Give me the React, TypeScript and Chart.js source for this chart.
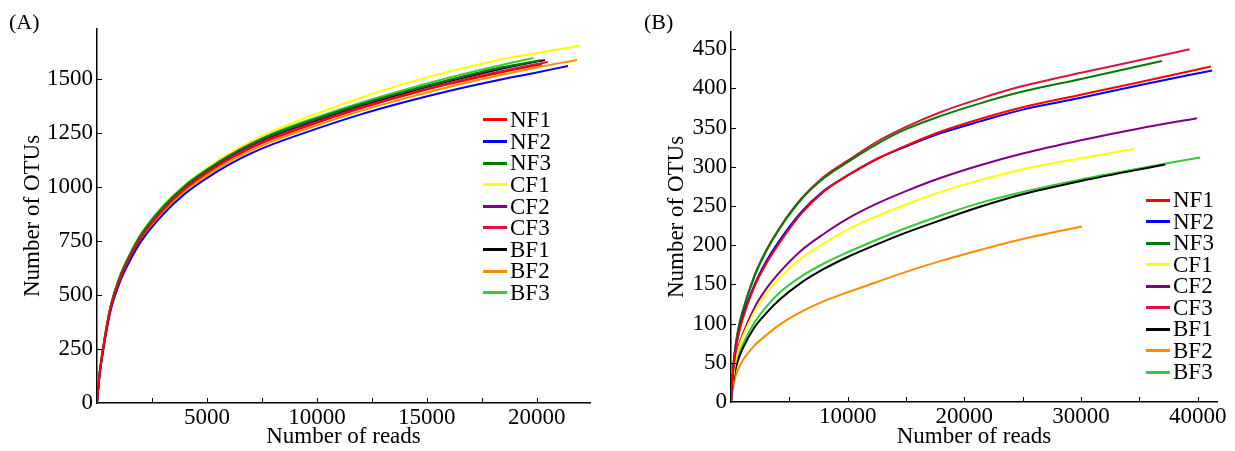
import React, { useEffect, useRef } from "react";
import { Chart, registerables } from "chart.js";

Chart.register(...registerables);

const SERIES_NAMES = ["NF1", "NF2", "NF3", "CF1", "CF2", "CF3", "BF1", "BF2", "BF3"];
const SERIES_COLORS = ["#ff0000", "#0000ff", "#007d00", "#ffff00", "#800080", "#dc143c", "#000000", "#ff8c00", "#32cd32"];

// ---------- Panel A ----------
const A_READS = [0, 100, 300, 600, 1000, 1500, 2000, 3000, 4000, 5000, 6000, 7000, 8000, 10000, 12000, 14000, 16000, 18000, 20000];
const A_NF1 = [0, 117, 262, 430, 562, 675, 766, 893, 990, 1064, 1127, 1180, 1224, 1297, 1364, 1423, 1476, 1522, 1563];
const A_NF2 = [0, 114, 255, 420, 549, 659, 747, 872, 968, 1041, 1103, 1155, 1198, 1270, 1336, 1393, 1444, 1489, 1530];
const A_NF3 = [0, 120, 267, 438, 572, 687, 779, 908, 1006, 1080, 1145, 1199, 1244, 1317, 1383, 1441, 1494, 1545, 1583];
const A_CF1 = [0, 118, 265, 436, 571, 686, 779, 910, 1010, 1087, 1154, 1211, 1259, 1340, 1413, 1478, 1533, 1582, 1620];
const A_CF2 = [0, 119, 266, 437, 572, 686, 777, 906, 1003, 1077, 1141, 1195, 1239, 1312, 1380, 1440, 1494, 1543];
const A_CF3 = [0, 118, 263, 432, 565, 678, 769, 897, 994, 1068, 1131, 1184, 1228, 1301, 1368, 1427, 1480, 1527, 1569];
const A_BF1 = [0, 119, 266, 437, 571, 685, 776, 904, 1001, 1075, 1139, 1192, 1236, 1308, 1375, 1435, 1489, 1538, 1580];
const A_BF2 = [0, 115, 258, 425, 556, 668, 758, 884, 980, 1053, 1116, 1168, 1212, 1285, 1352, 1410, 1463, 1510, 1553];
const A_BF3 = [0, 120, 268, 440, 575, 690, 782, 912, 1010, 1085, 1150, 1205, 1250, 1323, 1390, 1450, 1505, 1555];
// final sampling depth (reads) and OTUs of each curve, same order as SERIES_NAMES
const A_END_READS = [20240, 21420, 20150, 21920, 18500, 20500, 20380, 21830, 19830];
const A_END_OTUS = [1567, 1560, 1586, 1653, 1555, 1578, 1587, 1588, 1597];
const A_X_TICKS = [2500, 5000, 7500, 10000, 12500, 15000, 17500, 20000];
const A_X_LABELS = [5000, 10000, 15000, 20000];
const A_Y_TICKS = [0, 250, 500, 750, 1000, 1250, 1500];
const A_X_MAX = 22420;
const A_Y_MAX = 1731;

// ---------- Panel B ----------
const B_READS = [0, 100, 300, 600, 1000, 2000, 3000, 4200, 6000, 8000, 10000, 12500, 15000, 18000, 21350, 25000, 30000, 35000];
const B_NF1 = [0, 25, 56, 83, 106, 147, 176, 204, 240, 269, 289, 310, 327, 345, 361, 376, 392, 408];
const B_NF2 = [0, 25, 57, 84, 108, 149, 179, 207, 242, 270, 289, 310, 326, 343, 358, 373, 388, 404];
const B_NF3 = [0, 27, 61, 91, 115, 160, 192, 222, 258, 286, 306, 329, 348, 365, 381, 396, 412];
const B_CF1 = [0, 19, 44, 65, 83, 115, 138, 159, 183, 203, 220, 237, 252, 268, 283, 297, 311];
const B_CF2 = [0, 20, 45, 68, 86, 120, 144, 166, 193, 215, 234, 253, 269, 286, 302, 317, 334, 349];
const B_CF3 = [0, 27, 61, 91, 116, 161, 193, 223, 259, 288, 308, 332, 351, 370, 387, 403, 420, 436];
const B_BF1 = [0, 16, 36, 53, 68, 95, 113, 131, 152, 170, 185, 201, 216, 232, 249, 265, 282];
const B_BF2 = [0, 12, 28, 41, 53, 72, 85, 99, 115, 129, 140, 153, 166, 180, 194, 208];
const B_BF3 = [0, 17, 38, 57, 73, 101, 121, 140, 160, 177, 191, 207, 222, 238, 254, 268, 284, 298];
const B_END_READS = [41140, 41250, 36940, 34560, 39940, 39310, 37220, 30080, 40220];
const B_END_OTUS = [428, 423, 435, 323, 362, 450, 303, 224, 312];
const B_X_TICKS = [5000, 10000, 15000, 20000, 25000, 30000, 35000, 40000];
const B_X_LABELS = [10000, 20000, 30000, 40000];
const B_Y_TICKS = [0, 50, 100, 150, 200, 250, 300, 350, 400, 450];
const B_X_MAX = 41660;
const B_Y_MAX = 472;

const FONT_FAMILY = "'Liberation Serif', 'Times New Roman', serif";

function buildPoints(reads: number[], vals: number[], endX: number, endY: number) {
  const pts = vals.map((v, i) => ({ x: reads[i], y: v }));
  pts.push({ x: endX, y: endY });
  return pts;
}

const inwardTicks = {
  id: "inwardTicks",
  afterDraw(chart: any) {
    const { ctx, chartArea } = chart;
    const xs = chart.scales.x;
    const ys = chart.scales.y;
    const len = 5;
    ctx.save();
    ctx.strokeStyle = "#000";
    ctx.lineWidth = 1;
    ctx.beginPath();
    xs.ticks.forEach((t: any) => {
      if (t.value === 0) return;
      const px = Math.round(xs.getPixelForValue(t.value)) + 0.5;
      ctx.moveTo(px, chartArea.bottom);
      ctx.lineTo(px, chartArea.bottom - len);
    });
    ys.ticks.forEach((t: any) => {
      if (t.value === 0) return;
      const py = Math.round(ys.getPixelForValue(t.value)) + 0.5;
      ctx.moveTo(chartArea.left, py);
      ctx.lineTo(chartArea.left + len, py);
    });
    ctx.stroke();
    ctx.restore();
  },
};

type PanelCfg = {
  reads: number[];
  series: number[][];
  endReads: number[];
  endOtus: number[];
  xTicks: number[];
  xLabels: number[];
  yTicks: number[];
  xMax: number;
  yMax: number;
  yAxisWidth: number;
  xAxisHeight: number;
  padding: { left: number; right: number; top: number; bottom: number };
  yTitlePad: number;
};

function makeConfig(p: PanelCfg): any {
  const datasets = SERIES_NAMES.map((name, i) => ({
    label: name,
    data: buildPoints(p.reads, p.series[i], p.endReads[i], p.endOtus[i]),
    borderColor: SERIES_COLORS[i],
    backgroundColor: SERIES_COLORS[i],
    borderWidth: 2,
    pointRadius: 0,
    fill: false,
    cubicInterpolationMode: "monotone",
  }));
  const font = { family: FONT_FAMILY, size: 23 };
  return {
    type: "line",
    data: { datasets },
    options: {
      responsive: false,
      animation: false,
      layout: { padding: p.padding },
      plugins: { legend: { display: false }, tooltip: { enabled: false } },
      scales: {
        x: {
          type: "linear",
          min: 0,
          max: p.xMax,
          grid: { display: false, drawTicks: false },
          border: { display: true, color: "#000", width: 1.5 },
          afterBuildTicks: (s: any) => {
            s.ticks = p.xTicks.map((v) => ({ value: v }));
          },
          ticks: {
            autoSkip: false,
            maxRotation: 0,
            minRotation: 0,
            padding: 1,
            color: "#000",
            font,
            callback: (v: number) => (p.xLabels.includes(v) ? String(v) : ""),
          },
          title: { display: true, text: "Number of reads", color: "#000", font, padding: { top: 0, bottom: 0 } },
          afterFit: (s: any) => {
            s.height = p.xAxisHeight;
          },
        },
        y: {
          type: "linear",
          min: 0,
          max: p.yMax,
          grid: { display: false, drawTicks: false },
          border: { display: true, color: "#000", width: 1.5 },
          afterBuildTicks: (s: any) => {
            s.ticks = p.yTicks.map((v) => ({ value: v }));
          },
          ticks: {
            autoSkip: false,
            padding: 4,
            color: "#000",
            font,
            callback: (v: number) => String(v),
          },
          title: { display: true, text: "Number of OTUs", color: "#000", font, padding: { top: p.yTitlePad, bottom: 0 } },
          afterFit: (s: any) => {
            s.width = p.yAxisWidth;
          },
        },
      },
    },
    plugins: [inwardTicks],
  };
}

function Panel({ cfg, left, width }: { cfg: PanelCfg; left: number; width: number }) {
  const ref = useRef<HTMLCanvasElement | null>(null);
  useEffect(() => {
    if (!ref.current) return;
    const chart = new Chart(ref.current, makeConfig(cfg));
    return () => chart.destroy();
  }, []);
  return (
    <canvas
      ref={ref}
      width={width}
      height={451}
      style={{ position: "absolute", left, top: 0, width, height: 451 }}
    />
  );
}

function Legend({ left, top, spacing }: { left: number; top: number; spacing: number }) {
  return (
    <div style={{ position: "absolute", left, top: top - spacing / 2, fontFamily: FONT_FAMILY, fontSize: 23, color: "#000" }}>
      {SERIES_NAMES.map((n, i) => (
        <div key={n} style={{ display: "flex", alignItems: "center", height: spacing, lineHeight: `${spacing}px` }}>
          <span style={{ display: "inline-block", width: 24, height: 3, background: SERIES_COLORS[i], marginRight: 3 }} />
          <span>{n}</span>
        </div>
      ))}
    </div>
  );
}

const PANEL_A: PanelCfg = {
  reads: A_READS,
  series: [A_NF1, A_NF2, A_NF3, A_CF1, A_CF2, A_CF3, A_BF1, A_BF2, A_BF3],
  endReads: A_END_READS,
  endOtus: A_END_OTUS,
  xTicks: A_X_TICKS,
  xLabels: A_X_LABELS,
  yTicks: A_Y_TICKS,
  xMax: A_X_MAX,
  yMax: A_Y_MAX,
  yAxisWidth: 97,
  xAxisHeight: 48,
  padding: { left: 0, right: 20, top: 29, bottom: 0 },
  yTitlePad: 19,
};

const PANEL_B: PanelCfg = {
  reads: B_READS,
  series: [B_NF1, B_NF2, B_NF3, B_CF1, B_CF2, B_CF3, B_BF1, B_BF2, B_BF3],
  endReads: B_END_READS,
  endOtus: B_END_OTUS,
  xTicks: B_X_TICKS,
  xLabels: B_X_LABELS,
  yTicks: B_Y_TICKS,
  xMax: B_X_MAX,
  yMax: B_Y_MAX,
  yAxisWidth: 111,
  xAxisHeight: 49,
  padding: { left: 0, right: 18, top: 32, bottom: 0 },
  yTitlePad: 43,
};

export default function App() {
  return (
    <div style={{ position: "absolute", left: 0, top: 0, width: 1235, height: 451, overflow: "hidden", background: "#fff" }}>
      <Panel cfg={PANEL_A} left={0} width={610} />
      <Panel cfg={PANEL_B} left={620} width={615} />
      <div style={{ position: "absolute", left: 9, top: 9, fontFamily: FONT_FAMILY, fontSize: 22, lineHeight: "26px", color: "#000" }}>(A)</div>
      <div style={{ position: "absolute", left: 644, top: 9, fontFamily: FONT_FAMILY, fontSize: 22, lineHeight: "26px", color: "#000" }}>(B)</div>
      <Legend left={483} top={120} spacing={21.6} />
      <Legend left={1146} top={200} spacing={21.5} />
    </div>
  );
}
